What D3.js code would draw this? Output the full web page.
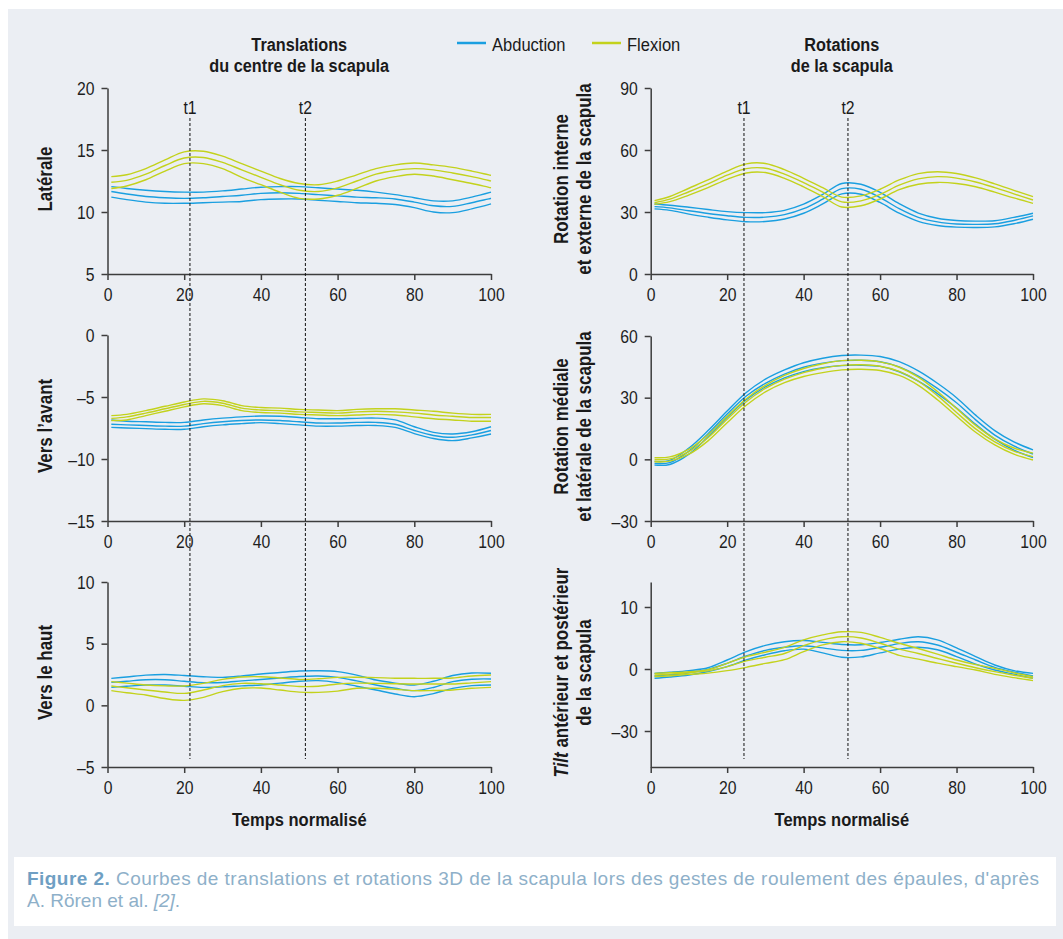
<!DOCTYPE html>
<html lang="fr">
<head>
<meta charset="utf-8">
<title>Translations et rotations 3D de la scapula</title>
<script src="https://cdn.jsdelivr.net/npm/d3@7/dist/d3.min.js"></script>
<style>
  html, body { margin: 0; padding: 0; background: #ffffff; }
  svg { display: block; }
  .narrow { font-family: "Liberation Sans", Arial, sans-serif; }
  .tick text { font-size: 19px; fill: #1e1e1e; }
  .tick line, .domain { stroke: #3d3d3d; stroke-width: 1.5; }
  .caption { font-family: "Liberation Sans", Arial, sans-serif; }
</style>
</head>
<body>
<svg id="chart" width="1063" height="939"></svg>
<script>
// Normalised time (% of the movement) at which each curve is sampled
const timePct = [1, 5, 10, 15, 20, 25, 30, 35, 40, 45, 50, 55, 60, 65, 70, 75, 80, 85, 90, 95, 100];
const xTicks = [0, 20, 40, 60, 80, 100];
const phaseTimes = { left: [21.5, 51.6], right: [24.4, 51.6] };
const phaseLabels = ["t1", "t2"];
const seriesNames = ["Abduction", "Flexion"];

// Each array: upper bound, mean, lower bound
const latAbduction = [
  [12.05, 11.9, 11.75, 11.65, 11.6, 11.6, 11.7, 11.85, 12.0, 12.05, 12.05, 11.95, 11.85, 11.75, 11.6, 11.4, 11.15, 10.9, 10.9, 11.2, 11.6],
  [11.65, 11.45, 11.25, 11.15, 11.1, 11.15, 11.25, 11.35, 11.5, 11.55, 11.5, 11.4, 11.3, 11.2, 11.15, 11.05, 10.8, 10.5, 10.45, 10.75, 11.1],
  [11.2, 11.0, 10.8, 10.7, 10.7, 10.75, 10.8, 10.85, 11.0, 11.05, 11.05, 10.95, 10.85, 10.75, 10.7, 10.6, 10.35, 10.0, 9.95, 10.25, 10.65]
];
const latFlexion = [
  [12.85, 13.0, 13.5, 14.2, 14.85, 14.9, 14.5, 13.9, 13.3, 12.7, 12.3, 12.2, 12.5, 13.0, 13.5, 13.8, 13.95, 13.8, 13.6, 13.3, 12.95],
  [12.4, 12.55, 13.05, 13.75, 14.35, 14.4, 14.0, 13.4, 12.8, 12.2, 11.75, 11.65, 11.95, 12.5, 13.05, 13.35, 13.5, 13.4, 13.15, 12.85, 12.5],
  [11.9, 12.1, 12.6, 13.3, 13.9, 13.9, 13.5, 12.8, 12.2, 11.6, 11.1, 11.05, 11.35, 11.9, 12.5, 12.85, 13.05, 12.9, 12.6, 12.3, 11.95]
];
const avantAbduction = [
  [-6.85, -6.95, -7.0, -7.05, -7.05, -6.85, -6.7, -6.6, -6.53, -6.55, -6.65, -6.75, -6.75, -6.72, -6.7, -6.85, -7.4, -7.85, -7.98, -7.8, -7.4],
  [-7.2, -7.25, -7.3, -7.35, -7.35, -7.15, -7.0, -6.9, -6.85, -6.9, -7.0, -7.1, -7.1, -7.05, -7.05, -7.2, -7.7, -8.1, -8.25, -8.05, -7.7],
  [-7.45, -7.5, -7.55, -7.6, -7.6, -7.4, -7.25, -7.15, -7.07, -7.15, -7.25, -7.35, -7.35, -7.3, -7.3, -7.45, -7.95, -8.35, -8.52, -8.3, -7.98]
];
const avantFlexion = [
  [-6.5, -6.4, -6.1, -5.75, -5.4, -5.15, -5.3, -5.7, -5.85, -5.9, -6.0, -6.05, -6.1, -6.0, -5.95, -5.95, -6.05, -6.15, -6.3, -6.4, -6.4],
  [-6.72, -6.6, -6.3, -5.95, -5.6, -5.35, -5.5, -5.9, -6.05, -6.1, -6.2, -6.25, -6.3, -6.2, -6.15, -6.2, -6.3, -6.45, -6.55, -6.65, -6.65],
  [-6.9, -6.85, -6.5, -6.15, -5.8, -5.55, -5.7, -6.1, -6.25, -6.3, -6.4, -6.45, -6.5, -6.45, -6.4, -6.45, -6.6, -6.75, -6.85, -6.95, -6.95]
];
const hautAbduction = [
  [2.19, 2.3, 2.45, 2.5, 2.42, 2.32, 2.27, 2.38, 2.54, 2.66, 2.78, 2.8, 2.73, 2.45, 2.05, 1.8, 1.65, 1.95, 2.42, 2.62, 2.6],
  [1.86, 1.95, 2.08, 2.08, 1.95, 1.84, 1.85, 1.98, 2.1, 2.22, 2.34, 2.38, 2.27, 1.98, 1.65, 1.38, 1.19, 1.45, 1.92, 2.12, 2.14],
  [1.46, 1.55, 1.65, 1.65, 1.55, 1.46, 1.5, 1.58, 1.65, 1.8, 1.95, 2.0, 1.84, 1.55, 1.24, 0.92, 0.7, 0.95, 1.38, 1.6, 1.65]
];
const hautFlexion = [
  [1.92, 1.8, 1.65, 1.58, 1.57, 1.78, 2.1, 2.3, 2.32, 2.22, 2.1, 2.15, 2.27, 2.28, 2.25, 2.2, 2.19, 2.19, 2.22, 2.38, 2.46],
  [1.57, 1.42, 1.24, 1.08, 0.97, 1.24, 1.6, 1.78, 1.75, 1.65, 1.53, 1.55, 1.73, 1.8, 1.78, 1.75, 1.73, 1.73, 1.73, 1.82, 1.92],
  [1.19, 1.02, 0.84, 0.55, 0.4, 0.65, 1.11, 1.38, 1.4, 1.24, 1.07, 1.05, 1.15, 1.38, 1.38, 1.3, 1.19, 1.2, 1.24, 1.38, 1.46]
];
const rieAbduction = [
  [33.9, 33.3, 32.3, 31.2, 30.2, 29.7, 29.7, 30.8, 33.8, 38.5, 43.8, 43.4, 39.5, 34.0, 29.5, 27.0, 25.9, 25.6, 25.8, 27.4, 29.4],
  [32.6, 32.0, 30.6, 29.3, 28.2, 27.4, 27.5, 28.7, 31.6, 36.2, 41.3, 41.0, 37.0, 31.6, 27.4, 25.2, 24.2, 24.0, 24.3, 25.9, 28.1],
  [31.5, 30.8, 29.0, 27.5, 26.2, 25.3, 25.4, 26.6, 29.4, 33.9, 38.8, 38.6, 34.6, 29.4, 25.5, 23.5, 22.7, 22.5, 22.8, 24.3, 26.5]
];
const rieFlexion = [
  [35.5, 37.5, 41.5, 45.5, 49.8, 53.3, 53.5, 50.5, 46.3, 41.8, 37.2, 37.8, 41.0, 45.5, 48.6, 49.5, 48.6, 46.5, 43.6, 40.5, 37.4],
  [34.5, 36.2, 39.8, 43.6, 47.8, 51.0, 51.2, 48.3, 44.2, 39.6, 34.9, 35.4, 38.5, 43.0, 46.0, 47.1, 46.4, 44.5, 41.8, 38.8, 35.8],
  [33.7, 35.0, 38.2, 41.8, 45.8, 48.9, 49.1, 46.3, 42.1, 37.4, 32.4, 33.0, 36.3, 40.8, 43.4, 44.3, 43.8, 42.2, 39.6, 36.8, 34.2]
];
const rmlAbduction = [
  [-1.0, -0.5, 5.5, 14.0, 23.5, 32.5, 39.0, 43.5, 47.0, 49.2, 50.5, 50.7, 50.0, 47.5, 43.0, 37.0, 30.0, 21.5, 14.0, 8.5, 4.6],
  [-2.0, -1.6, 4.0, 12.5, 22.0, 30.8, 37.0, 41.5, 44.8, 46.8, 48.0, 48.2, 47.5, 45.0, 40.5, 34.5, 27.5, 19.2, 11.8, 6.5, 2.6],
  [-2.8, -2.5, 2.5, 11.0, 20.5, 29.0, 35.2, 39.6, 42.7, 44.6, 45.6, 45.8, 45.2, 42.6, 38.0, 32.0, 25.0, 17.0, 9.8, 4.5, 0.8]
];
const rmlFlexion = [
  [0.8, 1.2, 5.0, 12.0, 21.0, 29.5, 36.0, 40.8, 44.2, 46.5, 48.0, 48.2, 47.4, 44.8, 40.0, 33.0, 24.8, 16.5, 10.0, 5.5, 3.0],
  [-0.2, 0.2, 3.8, 10.5, 19.5, 28.0, 34.5, 39.0, 42.2, 44.3, 45.7, 46.0, 45.3, 42.8, 38.0, 31.0, 22.8, 14.8, 8.5, 4.0, 1.3],
  [-1.2, -0.9, 2.5, 9.0, 17.8, 26.3, 32.8, 37.3, 40.3, 42.2, 43.5, 43.8, 43.2, 40.8, 36.0, 29.0, 21.0, 13.2, 7.0, 2.5, -0.3]
];
const tiltAbduction = [
  [-2.1, -1.6, -0.8, 0.2, 1.45, 2.8, 3.8, 4.4, 4.6, 4.3, 3.95, 3.9, 4.27, 4.8, 5.2, 4.7, 3.4, 2.0, 0.65, -0.8, -2.1],
  [-3.4, -2.8, -1.8, -0.2, 0.92, 2.1, 3.0, 3.5, 3.76, 3.4, 3.0, 3.0, 3.5, 4.1, 4.4, 3.87, 2.7, 1.45, 0.27, -1.5, -3.4],
  [-4.5, -3.9, -2.9, -1.2, 0.38, 1.45, 2.3, 2.95, 3.2, 2.6, 1.9, 1.95, 2.6, 3.2, 3.5, 3.1, 2.0, 0.8, -0.5, -2.5, -4.5]
];
const tiltFlexion = [
  [-2.1, -1.8, -1.3, -0.3, 0.92, 2.0, 2.7, 3.5, 4.7, 5.5, 6.0, 5.9, 5.1, 4.15, 3.3, 2.4, 1.45, 0.7, 0.1, -1.8, -3.7],
  [-2.9, -2.5, -1.8, -0.9, 0.38, 1.3, 1.9, 2.5, 3.76, 4.7, 5.2, 5.0, 4.15, 3.2, 2.5, 1.7, 0.92, 0.2, -1.3, -3.0, -4.5],
  [-3.7, -3.3, -2.6, -2.0, -0.8, 0.27, 0.9, 1.5, 2.8, 3.9, 4.4, 4.15, 3.3, 2.2, 1.6, 0.95, 0.38, -0.5, -2.6, -4.2, -5.6]
];

// Tick labels of the six vertical axes
const latTicks = [5, 10, 15, 20];
const avantTicks = [-15, -10, -5, 0];
const hautTicks = [-5, 0, 5, 10];
const rieTicks = [0, 30, 60, 90];
const rmlTicks = [-30, 0, 30, 60];
const tiltTicks = [-30, 0, 10];

const colors = { Abduction: "#1a9fe0", Flexion: "#c3d21c" };
const TICK_SQUEEZE = 0.83; // horizontal compression giving a condensed face
const TEXT_SQUEEZE = 0.87;

const svg = d3.select("#chart");

// squeeze text horizontally while keeping its anchor point in place
function condense(sel, k = TEXT_SQUEEZE) {
  sel.each(function () {
    const t = d3.select(this);
    const x = +(t.attr("x") || 0);
    const tr = t.attr("transform") || "";
    t.attr("x", x / k).attr("transform", `${tr} scale(${k},1)`.trim());
  });
}

// page background
svg.append("rect").attr("x", 8).attr("y", 9).attr("width", 1055).attr("height", 930).attr("fill", "#ebeef3");

const cols = {
  left: d3.scaleLinear().domain([0, 100]).range([107.5, 491]),
  right: d3.scaleLinear().domain([0, 100]).range([650.7, 1033])
};

const panels = [
  { col: "left", y: d3.scaleLinear().domain([5, 20]).range([274, 88]), ticks: latTicks, data: [latAbduction, latFlexion], label: ["Latérale"], bottom: 274 },
  { col: "left", y: d3.scaleLinear().domain([-15, 0]).range([521, 335]), ticks: avantTicks, data: [avantAbduction, avantFlexion], label: ["Vers l’avant"], bottom: 521 },
  { col: "left", y: d3.scaleLinear().domain([-5, 10]).range([767, 582]), ticks: hautTicks, data: [hautAbduction, hautFlexion], label: ["Vers le haut"], bottom: 767 },
  { col: "right", y: d3.scaleLinear().domain([0, 90]).range([274, 88]), ticks: rieTicks, data: [rieAbduction, rieFlexion], label: ["Rotation interne", "et externe de la scapula"], bottom: 274 },
  { col: "right", y: d3.scaleLinear().domain([-30, 60]).range([521, 336]), ticks: rmlTicks, data: [rmlAbduction, rmlFlexion], label: ["Rotation médiale", "et latérale de la scapula"], bottom: 521 },
  // the tilt axis is graduated unevenly (10 / 0 / –30 equally spaced): piecewise scale
  { col: "right", y: d3.scaleLinear().domain([-47.4, -30, 0, 10, 14]).range([767, 731, 669, 607, 582]), ticks: tiltTicks, data: [tiltAbduction, tiltFlexion], label: ["@Tilt antérieur et postérieur", "de la scapula"], bottom: 767 }
];

const fmt = d => (d < 0 ? "\u2013" + Math.abs(d) : String(d));

panels.forEach(p => {
  const x = cols[p.col];
  const g = svg.append("g").attr("class", "narrow");

  // curves
  p.data.forEach((band, si) => {
    const line = d3.line()
      .x((d, i) => x(timePct[i]))
      .y(d => p.y(d))
      .curve(d3.curveCatmullRom.alpha(0.5));
    band.forEach(vals => {
      g.append("path")
        .attr("d", line(vals))
        .attr("fill", "none")
        .attr("stroke", colors[seriesNames[si]])
        .attr("stroke-width", 1.4);
    });
  });

  // axes
  const ya = g.append("g")
    .attr("transform", `translate(${x.range()[0]},0)`)
    .call(d3.axisLeft(p.y).tickValues(p.ticks).tickFormat(fmt).tickSize(6).tickSizeOuter(0).tickPadding(7));
  condense(ya.selectAll(".tick text"), TICK_SQUEEZE);
  const xa = g.append("g")
    .attr("transform", `translate(0,${p.bottom})`)
    .call(d3.axisBottom(x).tickValues(xTicks).tickSize(6).tickSizeOuter(0).tickPadding(8));
  condense(xa.selectAll(".tick text"), TICK_SQUEEZE);

  // axis title (rotated)
  const r = p.y.range();
  const yMid = (r[0] + r[r.length - 1]) / 2;
  const lineX = p.col === "left" ? [52] : [568, 591];
  p.label.forEach((txt, li) => {
    const t = g.append("text")
      .attr("transform", `translate(${lineX[li]},${yMid - 2}) rotate(-90) scale(${TEXT_SQUEEZE},1)`)
      .attr("text-anchor", "middle")
      .attr("font-size", 19.5)
      .attr("font-weight", "bold")
      .attr("fill", "#1a1a1a");
    if (txt.startsWith("@")) {
      const parts = txt.slice(1).split(" ");
      t.append("tspan").attr("font-style", "italic").text(parts[0]);
      t.append("tspan").text(" " + parts.slice(1).join(" "));
    } else {
      t.text(txt);
    }
  });
});

// phase markers t1 / t2
Object.entries(phaseTimes).forEach(([col, times]) => {
  const x = cols[col];
  times.forEach((t, i) => {
    svg.append("line")
      .attr("x1", x(t)).attr("x2", x(t))
      .attr("y1", 118).attr("y2", 759)
      .attr("stroke", "#111").attr("stroke-width", 1)
      .attr("stroke-dasharray", "3,2");
    svg.append("text").attr("class", "narrow")
      .attr("x", x(t)).attr("y", 114)
      .attr("text-anchor", "middle")
      .attr("font-size", 19)
      .attr("fill", "#1a1a1a")
      .text(phaseLabels[i])
      .call(condense, TICK_SQUEEZE);
  });
});

// column titles and x-axis titles
const titles = [
  { col: "left", lines: ["Translations", "du centre de la scapula"] },
  { col: "right", lines: ["Rotations", "de la scapula"] }
];
titles.forEach(tt => {
  const x = cols[tt.col];
  const cx = (x.range()[0] + x.range()[1]) / 2;
  tt.lines.forEach((l, i) => {
    svg.append("text").attr("class", "narrow")
      .attr("x", cx)
      .attr("y", 51 + i * 21)
      .attr("text-anchor", "middle")
      .attr("font-size", 18.7).attr("font-weight", "bold").attr("fill", "#1a1a1a")
      .text(l)
      .call(condense);
  });
  svg.append("text").attr("class", "narrow")
    .attr("x", cx)
    .attr("y", 826)
    .attr("text-anchor", "middle")
    .attr("font-size", 19).attr("font-weight", "bold").attr("fill", "#1a1a1a")
    .text("Temps normalisé")
    .call(condense);
});

// legend
const legendX = [457, 592];
seriesNames.forEach((s, i) => {
  svg.append("line")
    .attr("x1", legendX[i]).attr("x2", legendX[i] + 29)
    .attr("y1", 43).attr("y2", 43)
    .attr("stroke", colors[s]).attr("stroke-width", 2.5);
  svg.append("text").attr("class", "narrow")
    .attr("x", legendX[i] + 35).attr("y", 51)
    .attr("font-size", 19).attr("fill", "#1a1a1a")
    .text(s)
    .call(condense);
});

// caption box
svg.append("rect").attr("x", 14).attr("y", 857).attr("width", 1042).attr("height", 69).attr("fill", "#ffffff");
const cap1 = svg.append("text").attr("class", "caption")
  .attr("x", 27).attr("y", 885)
  .attr("font-size", 19).attr("fill", "#8eb0c9")
  .attr("textLength", 1012).attr("lengthAdjust", "spacing");
cap1.append("tspan").attr("font-weight", "bold").attr("fill", "#6f9fc3").text("Figure 2.");
cap1.append("tspan").text(" Courbes de translations et rotations 3D de la scapula lors des gestes de roulement des épaules, d'après");
const cap2 = svg.append("text").attr("class", "caption")
  .attr("x", 27).attr("y", 907)
  .attr("font-size", 19).attr("fill", "#8eb0c9");
cap2.append("tspan").text("A. Rören et al. ");
cap2.append("tspan").attr("font-style", "italic").text("[2]");
cap2.append("tspan").text(".");
</script>
</body>
</html>
